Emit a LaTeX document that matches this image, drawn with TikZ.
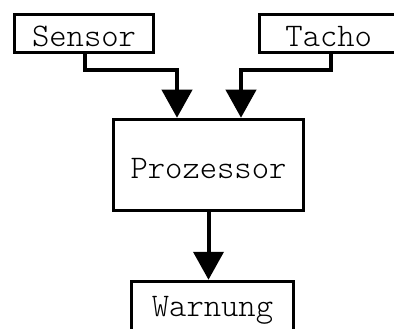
\documentclass[tikz,border=0pt]{standalone}
\usepackage{fontspec}
\setmonofont{Latin Modern Mono Light}
\usetikzlibrary{arrows.meta}
\tikzset{
  box/.style={draw=black, line width=3.5pt, fill=white, rectangle, inner sep=0pt,
    font=\ttfamily\fontsize{33}{33}\selectfont, text height=27pt, text depth=0pt},
  conn/.style={draw=black, line width=4pt, -{Triangle[length=28pt,width=30pt]}}
}
\begin{document}
\begin{tikzpicture}[x=1pt,y=-1pt]
\useasboundingbox (0,0) rectangle (394,329);
\node[box, minimum width=139pt, minimum height=38pt] (sensor) at (84,33.5) {Sensor};
\node[box, minimum width=138.5pt, minimum height=38pt] (tacho) at (328.75,33.5) {Tacho};
\node[box, minimum width=190pt, minimum height=91pt] (proc) at (208.5,165) {Prozessor};
\node[box, minimum width=162pt, minimum height=58.5pt, text height=11.5pt] (warn) at (212.5,310.75) {Warnung};
\coordinate (sa) at ([xshift=1pt]sensor.south);
\coordinate (ta) at ([xshift=2.5pt]tacho.south);
\draw[conn] (sa) |- (177,70) -- (proc.north -| 177,0);
\draw[conn] (ta) |- (241,70) -- (proc.north -| 241,0);
\draw[conn] (proc.south) -- (proc.south |- warn.north);
\end{tikzpicture}
\end{document}
